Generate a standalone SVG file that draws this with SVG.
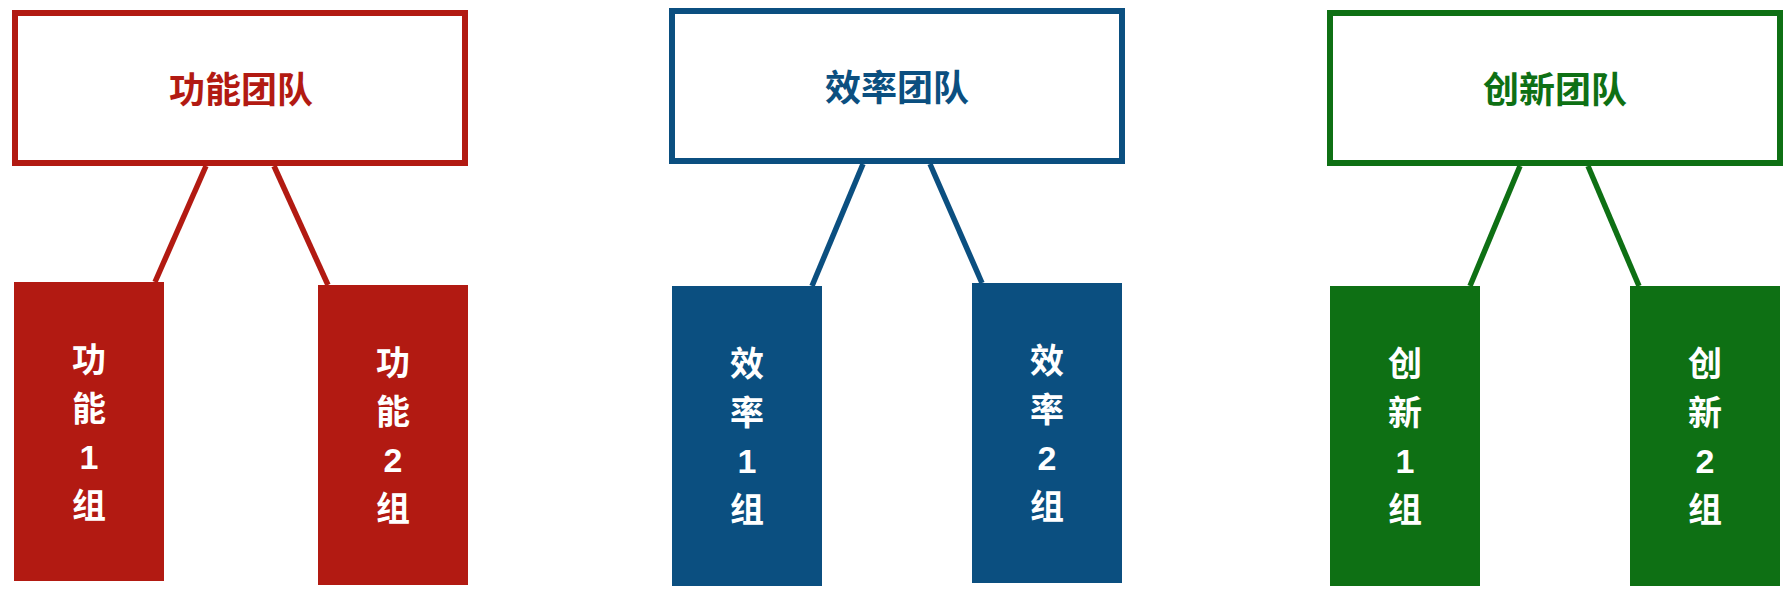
<svg xmlns="http://www.w3.org/2000/svg" width="1792" height="594" viewBox="0 0 1792 594">
<style>
.title{fill:#fff;stroke-width:6}
.t{font-family:"Liberation Sans","Noto Sans CJK SC",sans-serif;font-weight:bold;font-size:34px;text-anchor:middle}
.h{font-size:36px}
.w{fill:#fff}
.red{stroke:#B21A12}
.blue{stroke:#0B4F80}
.green{stroke:#0E7014}
.conn line{stroke-width:5.5;fill:none}
</style>
<rect width="1792" height="594" fill="#fff"/>
<g id="red-team">
<rect class="title red" x="15" y="13" width="450" height="150"/>
<text class="t h" x="241" y="103" fill="#B21A12">功能团队</text>
</g>
<g id="red-1">
<rect x="14" y="282" width="150" height="299" fill="#B21A12"/>
<text class="t w" x="89" y="372">功</text><text class="t w" x="89" y="420.5">能</text><text class="t w" x="89" y="469">1</text><text class="t w" x="89" y="517.5">组</text>
</g>
<g id="red-2">
<rect x="318" y="285" width="150" height="300" fill="#B21A12"/>
<text class="t w" x="393" y="375">功</text><text class="t w" x="393" y="423.5">能</text><text class="t w" x="393" y="472">2</text><text class="t w" x="393" y="520.5">组</text>
</g>
<g id="blue-team">
<rect class="title blue" x="672" y="11" width="450" height="150"/>
<text class="t h" x="897" y="101" fill="#0B4F80">效率团队</text>
</g>
<g id="blue-1">
<rect x="672" y="286" width="150" height="300" fill="#0B4F80"/>
<text class="t w" x="747" y="376">效</text><text class="t w" x="747" y="424.5">率</text><text class="t w" x="747" y="473">1</text><text class="t w" x="747" y="521.5">组</text>
</g>
<g id="blue-2">
<rect x="972" y="283" width="150" height="300" fill="#0B4F80"/>
<text class="t w" x="1047" y="373">效</text><text class="t w" x="1047" y="421.5">率</text><text class="t w" x="1047" y="470">2</text><text class="t w" x="1047" y="518.5">组</text>
</g>
<g id="green-team">
<rect class="title green" x="1330" y="13" width="450" height="150"/>
<text class="t h" x="1555" y="103" fill="#0E7014">创新团队</text>
</g>
<g id="green-1">
<rect x="1330" y="286" width="150" height="300" fill="#0E7014"/>
<text class="t w" x="1405" y="376">创</text><text class="t w" x="1405" y="424.5">新</text><text class="t w" x="1405" y="473">1</text><text class="t w" x="1405" y="521.5">组</text>
</g>
<g id="green-2">
<rect x="1630" y="286" width="150" height="300" fill="#0E7014"/>
<text class="t w" x="1705" y="376">创</text><text class="t w" x="1705" y="424.5">新</text><text class="t w" x="1705" y="473">2</text><text class="t w" x="1705" y="521.5">组</text>
</g>
<g id="connectors" class="conn">
<line class="red" x1="206" y1="166" x2="155" y2="282"/>
<line class="red" x1="274" y1="166" x2="328" y2="285"/>
<line class="blue" x1="863" y1="164" x2="812" y2="286"/>
<line class="blue" x1="930" y1="164" x2="982" y2="283"/>
<line class="green" x1="1520" y1="166" x2="1470" y2="286"/>
<line class="green" x1="1588" y1="166" x2="1639" y2="286"/>
</g>
</svg>
